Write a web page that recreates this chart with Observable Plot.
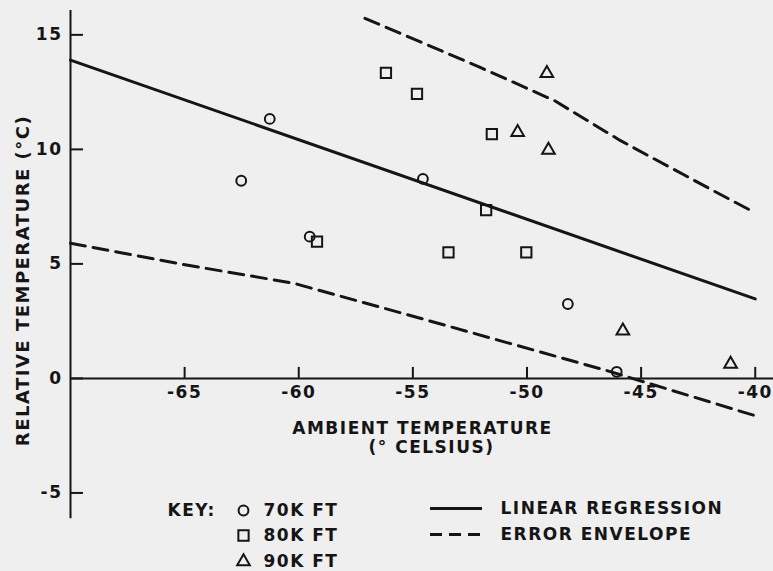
<!DOCTYPE html>
<html><head><meta charset="utf-8">
<script src="https://cdn.jsdelivr.net/npm/d3@7"></script>
<script src="https://cdn.jsdelivr.net/npm/@observablehq/plot@0.6"></script>
<style>
html,body{margin:0;padding:0;background:#efefef;}
#chart{width:773px;height:571px;overflow:hidden;}
</style>
</head><body><div id="chart"></div>
<script>
// ---- data ----
const xTicks = [-65, -60, -55, -50, -45, -40];
const yTicks = [-5, 0, 5, 10, 15];
const ft70 = [[-61.27, 11.33], [-62.52, 8.63], [-59.52, 6.19], [-54.56, 8.71], [-48.21, 3.25], [-46.07, 0.29]];
const ft80 = [[-56.18, 13.34], [-59.2, 5.97], [-54.82, 12.42], [-51.54, 10.67], [-51.79, 7.35], [-53.44, 5.5], [-50.03, 5.5]];
const ft90 = [[-49.13, 13.32], [-50.41, 10.74], [-49.06, 9.97], [-45.8, 2.08], [-41.08, 0.63]];
const regression = [[-70, 13.9], [-40, 3.47]];
const upperEnvelope = [[-57.1, 15.72], [-52.05, 13.58], [-48.8, 12.13], [-45.9, 10.38], [-41.84, 8.2], [-40.1, 7.28]];
const lowerEnvelope = [[-70, 5.9], [-65.2, 5.0], [-60.2, 4.15], [-54.8, 2.66], [-46.5, 0.34], [-40, -1.63]];
const xLabel = ["AMBIENT TEMPERATURE", "(° CELSIUS)"];
const yLabel = "RELATIVE TEMPERATURE (°C)";
const keyItems = ["70K FT", "80K FT", "90K FT"];
const lineItems = ["LINEAR REGRESSION", "ERROR ENVELOPE"];

// ---- layout ----
const ink = "#151515";
const X0 = -70, X1 = -39.2;
const yAxisTop = 16.06, yAxisBottom = -6.13;
const dash = "15,8";
const sym = {circle: 4.9, square: 5.8, triangle: 4.7};
const px = d => d[0], py = d => d[1];
const ML = 70; // frame left in px
const T = {fill: ink, lineAnchor: "middle"};

const chart = Plot.plot({
  width: 773, height: 571,
  marginLeft: ML, marginRight: 0, marginTop: 0, marginBottom: 0,
  x: {domain: [X0, X1], axis: null},
  y: {domain: [-8.43, 16.5], axis: null},
  style: {background: "#efefef", color: ink, fontFamily: "DejaVu Sans", fontSize: "17px", fontWeight: "bold", letterSpacing: "1.5px", overflow: "visible"},
  marks: [
    // axes
    Plot.ruleX([X0], {y1: yAxisBottom, y2: yAxisTop, stroke: ink, strokeWidth: 2}),
    Plot.ruleY([0], {x1: X0, x2: X1, stroke: ink, strokeWidth: 2}),
    Plot.ruleX(xTicks, {x: d => d, y1: 0, y2: 0.48, stroke: ink, strokeWidth: 2}),
    Plot.ruleY(yTicks, {y: d => d, x1: X0, x2: X0 + 0.57, stroke: ink, strokeWidth: 2}),
    Plot.text(xTicks, {x: d => d, y: 0, dy: 14, text: d => String(d), ...T}),
    Plot.text(yTicks, {x: X0, y: d => d, dx: -8, textAnchor: "end", text: d => String(d), ...T}),
    // axis titles
    Plot.text([xLabel[0]], {frameAnchor: "top-left", dx: 422 - ML, dy: 428, textAnchor: "middle", ...T}),
    Plot.text([xLabel[1]], {frameAnchor: "top-left", dx: 431 - ML, dy: 447, textAnchor: "middle", ...T}),
    Plot.text([yLabel], {frameAnchor: "top-left", rotate: -90, dx: 23 - ML, dy: 280, textAnchor: "middle", fontSize: 18, ...T}),
    // lines
    Plot.line(regression, {x: px, y: py, stroke: ink, strokeWidth: 3}),
    Plot.line(upperEnvelope, {x: px, y: py, stroke: ink, strokeWidth: 3, strokeDasharray: dash}),
    Plot.line(lowerEnvelope, {x: px, y: py, stroke: ink, strokeWidth: 3, strokeDasharray: dash}),
    // points
    Plot.dot(ft70, {x: px, y: py, symbol: "circle", r: sym.circle, stroke: ink, strokeWidth: 2, fill: "none"}),
    Plot.dot(ft80, {x: px, y: py, symbol: "square", r: sym.square, stroke: ink, strokeWidth: 2, fill: "none"}),
    Plot.dot(ft90, {x: px, y: py, symbol: "triangle", r: sym.triangle, stroke: ink, strokeWidth: 2, fill: "none"}),
    // key (left)
    Plot.text(["KEY:"], {frameAnchor: "top-left", dx: 167 - ML, dy: 510, textAnchor: "start", ...T}),
    Plot.dot([0], {frameAnchor: "top-left", dx: 243 - ML, dy: 510, symbol: "circle", r: sym.circle, stroke: ink, strokeWidth: 2, fill: "none"}),
    Plot.dot([0], {frameAnchor: "top-left", dx: 243 - ML, dy: 535, symbol: "square", r: sym.square, stroke: ink, strokeWidth: 2, fill: "none"}),
    Plot.dot([0], {frameAnchor: "top-left", dx: 243 - ML, dy: 561, symbol: "triangle", r: sym.triangle, stroke: ink, strokeWidth: 2, fill: "none"}),
    Plot.text([keyItems[0]], {frameAnchor: "top-left", dx: 263 - ML, dy: 510, textAnchor: "start", ...T}),
    Plot.text([keyItems[1]], {frameAnchor: "top-left", dx: 263 - ML, dy: 535, textAnchor: "start", ...T}),
    Plot.text([keyItems[2]], {frameAnchor: "top-left", dx: 263 - ML, dy: 561, textAnchor: "start", ...T}),
    // key (right)
    Plot.ruleY([0], {insetLeft: 430 - ML, insetRight: 773 - 482, dy: 130, stroke: ink, strokeWidth: 3}),
    Plot.ruleY([0], {insetLeft: 430 - ML, insetRight: 773 - 482, dy: 156, stroke: ink, strokeWidth: 3, strokeDasharray: "12,7"}),
    Plot.text([lineItems[0]], {frameAnchor: "top-left", dx: 500 - ML, dy: 508, textAnchor: "start", ...T}),
    Plot.text([lineItems[1]], {frameAnchor: "top-left", dx: 500 - ML, dy: 534, textAnchor: "start", ...T})
  ]
});
document.getElementById("chart").appendChild(chart);
</script>
</body></html>
